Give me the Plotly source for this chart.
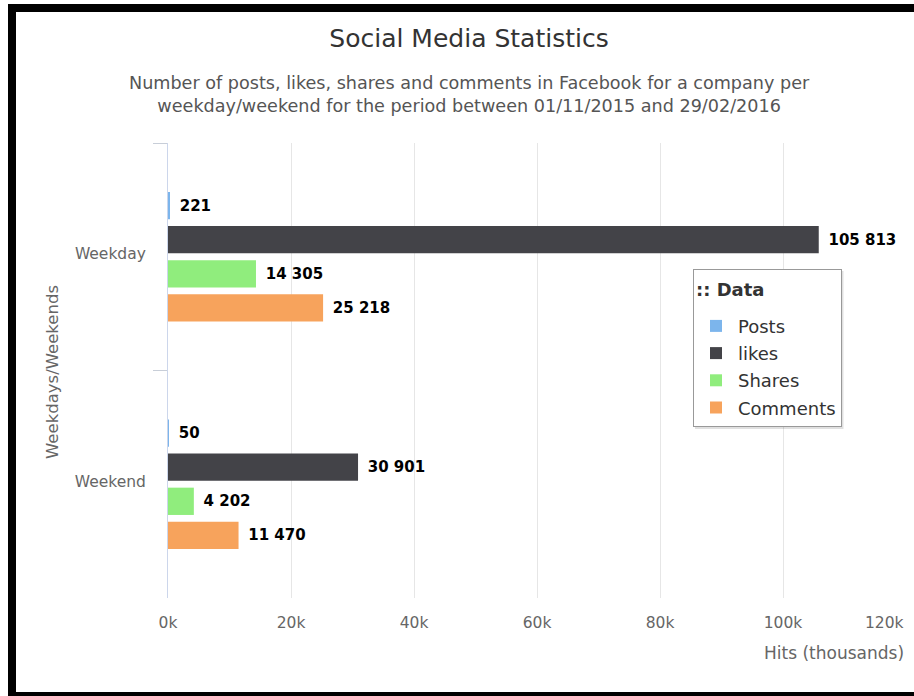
import plotly.graph_objects as go

# Facebook activity per weekday / weekend (01/11/2015 - 29/02/2016)
categories = ["Weekday", "Weekend"]
series_names = ["Posts", "likes", "Shares", "Comments"]
posts = [221, 50]
likes = [105813, 30901]
shares = [14305, 4202]
comments = [25218, 11470]
series_values = [posts, likes, shares, comments]
series_colors = ["#7cb5ec", "#434348", "#90ed7d", "#f7a35c"]

x_tick_values = [0, 20000, 40000, 60000, 80000, 100000, 120000]
x_tick_labels = ["0k", "20k", "40k", "60k", "80k", "100k", "120k"]

W, H = 914, 696
ML, MR, MT, MB = 168, 8, 143, 98
PW, PH = W - ML - MR, H - MT - MB
FONT = "DejaVu Sans"
AXIS_GREY = "#666666"
GRID_GREY = "#e6e6e6"


def px_x(px):
    return (px - ML) / PW


def px_y(py):
    return (H - MB - py) / PH


fig = go.Figure()
for name, vals, color in zip(series_names, series_values, series_colors):
    fig.add_trace(go.Bar(
        name=name,
        legendgroup=name,
        y=categories,
        x=vals,
        orientation="h",
        marker=dict(color=color, line=dict(width=0)),
        texttemplate="\u00a0\u200a%{x:,}",
        textposition="outside",
        outsidetextfont=dict(family=FONT, size=15, color="#000000", weight="bold"),
        cliponaxis=False,
        hoverinfo="x+name",
    ))

fig.update_layout(
    width=W,
    height=H,
    margin=dict(l=ML, r=MR, t=MT, b=MB, autoexpand=False),
    paper_bgcolor="white",
    plot_bgcolor="white",
    separators=". ",
    barmode="group",
    bargap=0.4,
    bargroupgap=0.2,
    font=dict(family=FONT, color=AXIS_GREY),
    title=dict(
        text="Social Media Statistics",
        font=dict(family=FONT, size=25, color="#333333"),
        xref="container", x=469 / W, xanchor="center",
        yref="container", y=1 - 38 / H, yanchor="middle",
    ),
    xaxis=dict(
        range=[x_tick_values[0], x_tick_values[-1]],
        # the last label is placed flush with the plot's right edge below
        tickvals=x_tick_values[:-1],
        ticktext=x_tick_labels[:-1],
        showgrid=True,
        gridcolor=GRID_GREY,
        gridwidth=1,
        minor=dict(tickvals=x_tick_values[-1:], showgrid=True,
                   gridcolor=GRID_GREY, gridwidth=1, ticks=""),
        zeroline=False,
        showline=False,
        ticks="outside",
        ticklen=10,
        tickcolor="rgba(0,0,0,0)",
        tickfont=dict(family=FONT, size=15.5, color=AXIS_GREY),
        fixedrange=True,
    ),
    yaxis=dict(
        type="category",
        categoryorder="array",
        categoryarray=categories,
        range=[1.5, -0.5],
        showgrid=False,
        zeroline=False,
        showline=True,
        linecolor="#ccd6eb",
        linewidth=1,
        ticks="outside",
        tickson="boundaries",
        ticklen=14,
        tickcolor="#c8ced8",
        ticklabelstandoff=18,
        ticklabelshift=3,
        tickfont=dict(family=FONT, size=15.5, color=AXIS_GREY),
        fixedrange=True,
    ),
    legend=dict(
        # a tall title line gives the header room; the visible text is raised in it
        title=dict(text="<sup><span style='font-size:18px'><b>:: Data</b></span></sup>",
                   font=dict(family=FONT, size=29, color="#333333")),
        font=dict(family=FONT, size=18, color="#333333"),
        bgcolor="white",
        bordercolor="#999999",
        borderwidth=1,
        x=px_x(693), y=px_y(269),
        xanchor="left", yanchor="top",
        traceorder="grouped",
        tracegroupgap=0.8,
        itemwidth=34,
    ),
    showlegend=True,
)

# soft drop shadow under the legend box
fig.add_shape(
    type="rect", xref="paper", yref="paper",
    x0=px_x(695), x1=px_x(843.5), y0=px_y(429), y1=px_y(271),
    fillcolor="rgba(0,0,0,0.12)", line=dict(width=0), layer="above",
)

fig.add_annotation(
    text=x_tick_labels[-1],
    xref="paper", yref="paper", x=px_x(906), y=px_y(623),
    xanchor="right", yanchor="middle", showarrow=False,
    font=dict(family=FONT, size=15.5, color=AXIS_GREY),
)

# subtitle and axis titles
fig.add_annotation(
    text="Number of posts, likes, shares and comments in Facebook for a company per<br>"
         "weekday/weekend for the period between 01/11/2015 and 29/02/2016",
    xref="paper", yref="paper", x=px_x(469), y=px_y(95),
    xanchor="center", yanchor="middle", showarrow=False,
    font=dict(family=FONT, size=17.6, color="#555555"), align="center",
)
fig.add_annotation(
    text="Weekdays/Weekends",
    xref="paper", yref="paper", x=px_x(52), y=px_y(372),
    xanchor="center", yanchor="middle", showarrow=False, textangle=-90,
    font=dict(family=FONT, size=16.5, color=AXIS_GREY),
)
fig.add_annotation(
    text="Hits (thousands)",
    xref="paper", yref="paper", x=px_x(906), y=px_y(653),
    xanchor="right", yanchor="middle", showarrow=False,
    font=dict(family=FONT, size=17, color=AXIS_GREY),
)

# black frame around the chart
frame = [
    (8, 4, 914, 12),    # top
    (8, 4, 16, 696),    # left
    (8, 692, 914, 696), # bottom
]
for x0, y0, x1, y1 in frame:
    fig.add_shape(
        type="rect", xref="paper", yref="paper",
        x0=px_x(x0), x1=px_x(x1), y0=px_y(y1), y1=px_y(y0),
        fillcolor="black", line=dict(width=0), layer="above",
    )

fig.write_html("out.html")
